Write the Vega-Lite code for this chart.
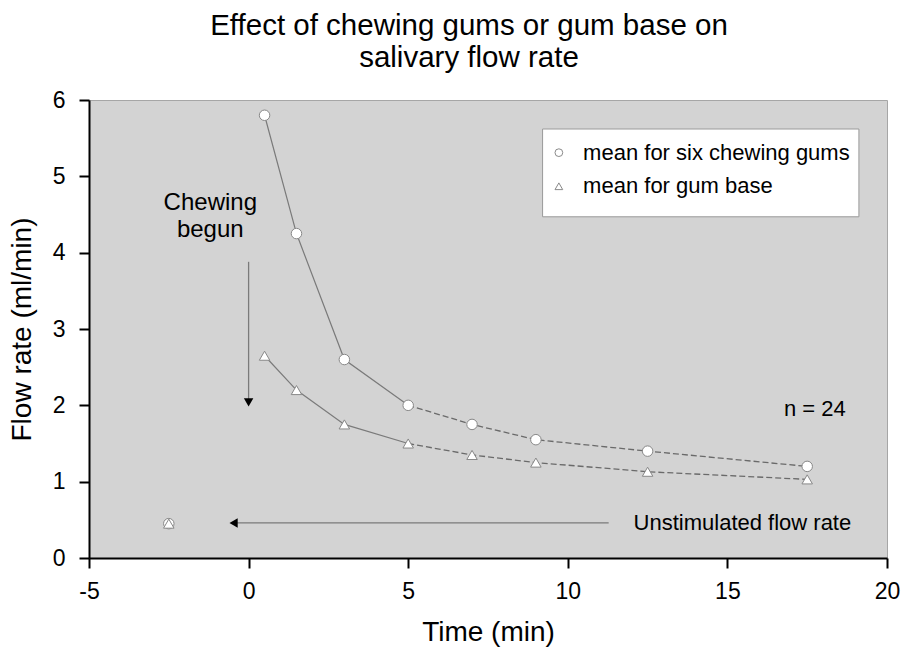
{
  "$schema": "https://vega.github.io/schema/vega-lite/v6.json",
  "width": 798,
  "height": 458,
  "autosize": {"type": "none"},
  "padding": {"left": 89, "top": 100, "right": 18, "bottom": 98},
  "background": "white",
  "config": {
    "font": "Liberation Sans",
    "view": {"fill": "#d3d3d3", "stroke": "#a6a6a6", "strokeWidth": 1},
    "axis": {
      "domainColor": "black",
      "domainWidth": 2,
      "tickColor": "black",
      "tickWidth": 2,
      "tickSize": 10,
      "labelColor": "black",
      "labelFont": "Liberation Sans",
      "labelFontSize": 23,
      "labelFlush": false,
      "labelOverlap": false,
      "labelExpr": "'' + datum.value",
      "titleColor": "black",
      "titleFont": "Liberation Sans",
      "titleFontSize": 28,
      "titleFontWeight": "normal",
      "grid": false
    },
    "text": {"font": "Liberation Sans", "color": "black"}
  },
  "title": {
    "text": ["Effect of chewing gums or gum base on", "salivary flow rate"],
    "font": "Liberation Sans",
    "fontSize": 29.5,
    "fontWeight": "normal",
    "color": "black",
    "lineHeight": 32,
    "anchor": "middle",
    "frame": "group",
    "dx": -19,
    "offset": 16
  },
  "datasets": {
    "flow": [
      {"series": "mean for six chewing gums", "time": -2.5, "flow": 0.45},
      {"series": "mean for six chewing gums", "time": 0.5, "flow": 5.8},
      {"series": "mean for six chewing gums", "time": 1.5, "flow": 4.25},
      {"series": "mean for six chewing gums", "time": 3, "flow": 2.6},
      {"series": "mean for six chewing gums", "time": 5, "flow": 2.0},
      {"series": "mean for six chewing gums", "time": 7, "flow": 1.75},
      {"series": "mean for six chewing gums", "time": 9, "flow": 1.55},
      {"series": "mean for six chewing gums", "time": 12.5, "flow": 1.4},
      {"series": "mean for six chewing gums", "time": 17.5, "flow": 1.2},
      {"series": "mean for gum base", "time": -2.5, "flow": 0.45},
      {"series": "mean for gum base", "time": 0.5, "flow": 2.65},
      {"series": "mean for gum base", "time": 1.5, "flow": 2.2},
      {"series": "mean for gum base", "time": 3, "flow": 1.75},
      {"series": "mean for gum base", "time": 5, "flow": 1.5},
      {"series": "mean for gum base", "time": 7, "flow": 1.35},
      {"series": "mean for gum base", "time": 9, "flow": 1.25},
      {"series": "mean for gum base", "time": 12.5, "flow": 1.13},
      {"series": "mean for gum base", "time": 17.5, "flow": 1.03}
    ],
    "arrows": [
      {"name": "chewing begun", "time": 0, "flow": 3.88, "time2": 0, "flow2": 2.08},
      {"name": "unstimulated", "time": 11.28, "flow": 0.46, "time2": -0.4, "flow2": 0.46}
    ],
    "headDown": [{"time": 0, "flow": 2.04}],
    "headLeft": [{"time": -0.47, "flow": 0.46}],
    "bigNotes": [{"time": -1.2, "flow": 4.56, "label": "Chewing\nbegun"}],
    "notes": [
      {"time": 17.74, "flow": 1.95, "label": "n = 24"},
      {"time": 15.47, "flow": 0.46, "label": "Unstimulated flow rate"}
    ],
    "keyBox": [{"time": 9.21, "time2": 19.12, "flow": 5.62, "flow2": 4.47}],
    "keySymbols": [
      {"series": "mean for six chewing gums", "time": 9.72, "flow": 5.31},
      {"series": "mean for gum base", "time": 9.72, "flow": 4.87}
    ],
    "keyLabels": [
      {"series": "mean for six chewing gums", "time": 10.48, "flow": 5.31},
      {"series": "mean for gum base", "time": 10.48, "flow": 4.87}
    ]
  },
  "encoding": {
    "x": {
      "field": "time",
      "type": "quantitative",
      "scale": {"domain": [-5, 20], "nice": false, "zero": false},
      "axis": {"values": [-5, 0, 5, 10, 15, 20], "labelPadding": 12, "titlePadding": 15, "title": "Time (min)"}
    },
    "y": {
      "field": "flow",
      "type": "quantitative",
      "scale": {"domain": [0, 6], "nice": false, "zero": true},
      "axis": {"values": [0, 1, 2, 3, 4, 5, 6], "labelPadding": 14, "titlePadding": 16, "title": "Flow rate (ml/min)"}
    }
  },
  "layer": [
    {
      "data": {"name": "flow"},
      "transform": [{"filter": "datum.time >= 0 && datum.time <= 5"}],
      "mark": {"type": "line", "color": "#7a7a7a", "strokeWidth": 1.2},
      "encoding": {"detail": {"field": "series", "type": "nominal"}, "order": {"field": "time", "type": "quantitative"}}
    },
    {
      "data": {"name": "flow"},
      "transform": [{"filter": "datum.time >= 5"}],
      "mark": {"type": "line", "color": "#6a6a6a", "strokeWidth": 1.3, "strokeDash": [6, 3]},
      "encoding": {"detail": {"field": "series", "type": "nominal"}, "order": {"field": "time", "type": "quantitative"}}
    },
    {
      "data": {"name": "arrows"},
      "mark": {"type": "rule", "color": "#7a7a7a", "strokeWidth": 1.3},
      "encoding": {
        "x2": {"field": "time2"},
        "y2": {"field": "flow2"}
      }
    },
    {
      "data": {"name": "headDown"},
      "mark": {"type": "point", "shape": "triangle-down", "filled": true, "color": "black", "size": 90, "opacity": 1},
      "encoding": {}
    },
    {
      "data": {"name": "headLeft"},
      "mark": {"type": "point", "shape": "triangle-left", "filled": true, "color": "black", "size": 90, "opacity": 1},
      "encoding": {}
    },
    {
      "data": {"name": "flow"},
      "mark": {"type": "point", "filled": true, "fill": "white", "stroke": "#888888", "strokeWidth": 1, "size": 110, "opacity": 1},
      "encoding": {
        "shape": {
          "field": "series",
          "type": "nominal",
          "scale": {"domain": ["mean for six chewing gums", "mean for gum base"], "range": ["circle", "triangle-up"]},
          "legend": null
        }
      }
    },
    {
      "data": {"name": "keyBox"},
      "mark": {"type": "rect", "fill": "white", "stroke": "#9a9a9a", "strokeWidth": 1},
      "encoding": {
        "x2": {"field": "time2"},
        "y2": {"field": "flow2"}
      }
    },
    {
      "data": {"name": "keySymbols"},
      "mark": {"type": "point", "filled": true, "fill": "white", "stroke": "#8a8a8a", "strokeWidth": 1, "size": 60, "opacity": 1},
      "encoding": {
        "shape": {"field": "series", "type": "nominal", "legend": null}
      }
    },
    {
      "data": {"name": "keyLabels"},
      "mark": {"type": "text", "align": "left", "baseline": "middle", "fontSize": 22},
      "encoding": {"text": {"field": "series", "type": "nominal"}}
    },
    {
      "data": {"name": "bigNotes"},
      "mark": {"type": "text", "align": "center", "baseline": "alphabetic", "fontSize": 24, "lineHeight": 27, "lineBreak": "\n"},
      "encoding": {"text": {"field": "label", "type": "nominal"}}
    },
    {
      "data": {"name": "notes"},
      "mark": {"type": "text", "align": "center", "baseline": "middle", "fontSize": 22},
      "encoding": {"text": {"field": "label", "type": "nominal"}}
    }
  ]
}
